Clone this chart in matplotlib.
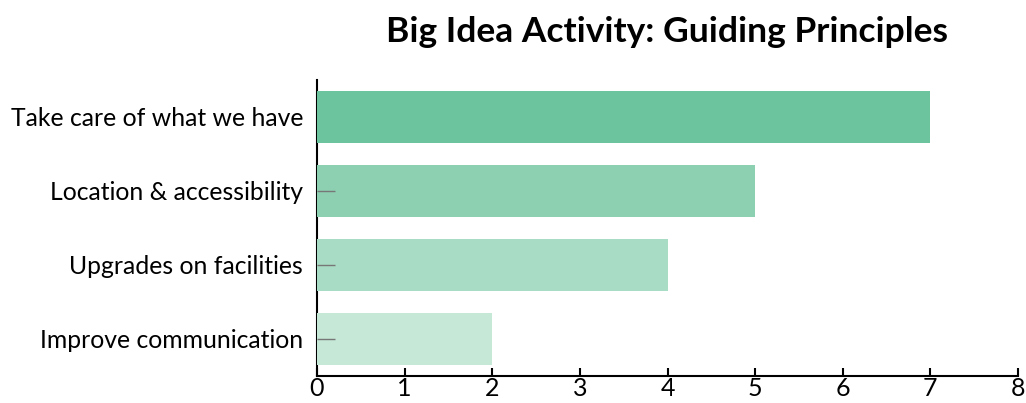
import matplotlib
matplotlib.use("Agg")
import matplotlib.pyplot as plt

categories = ["Take care of what we have", "Location & accessibility",
              "Upgrades on facilities", "Improve communication"]
values = [7, 5, 4, 2]
colors = ["#6cc49e", "#8dd0b1", "#a8dcc4", "#c5e8d7"]
x_ticks = [0, 1, 2, 3, 4, 5, 6, 7, 8]

plt.rcParams['font.family'] = ['Lato', 'DejaVu Sans']

fig = plt.figure(figsize=(10.26, 4.03), dpi=100)
ax = fig.add_axes([317/1026, 1-376/403, (1018-317)/1026, (376-80)/403])

ypos = list(range(len(categories)))[::-1]
ax.barh(ypos, values, height=0.7, color=colors, zorder=2)
ax.set_yticks(ypos)
ax.set_yticklabels(categories, fontsize=17.8)
ax.set_xticks(x_ticks)
ax.set_xticklabels([str(t) for t in x_ticks], fontsize=18)
ax.set_xlim(0, 8)
ax.set_ylim(-0.5, 3.5)

for s in ["top", "right"]:
    ax.spines[s].set_visible(False)
for s in ["left", "bottom"]:
    ax.spines[s].set_linewidth(1.5)
    ax.spines[s].set_color("black")
    ax.spines[s].set_zorder(1)

ax.tick_params(axis="x", direction="in", length=6, width=1.5, pad=1, color="black")
ax.tick_params(axis="y", direction="in", length=13, width=1, pad=10, color="#777777")
for t in ax.yaxis.get_major_ticks():
    if t.get_loc() == ypos[0]:
        t.tick1line.set_visible(False)
ax.set_axisbelow(False)

fig.text((317+1018)/2/1026, 1-32/403, "Big Idea Activity: Guiding Principles",
         ha="center", va="center", fontsize=25.5, fontweight="bold")

fig.savefig("out.png", dpi=100)
